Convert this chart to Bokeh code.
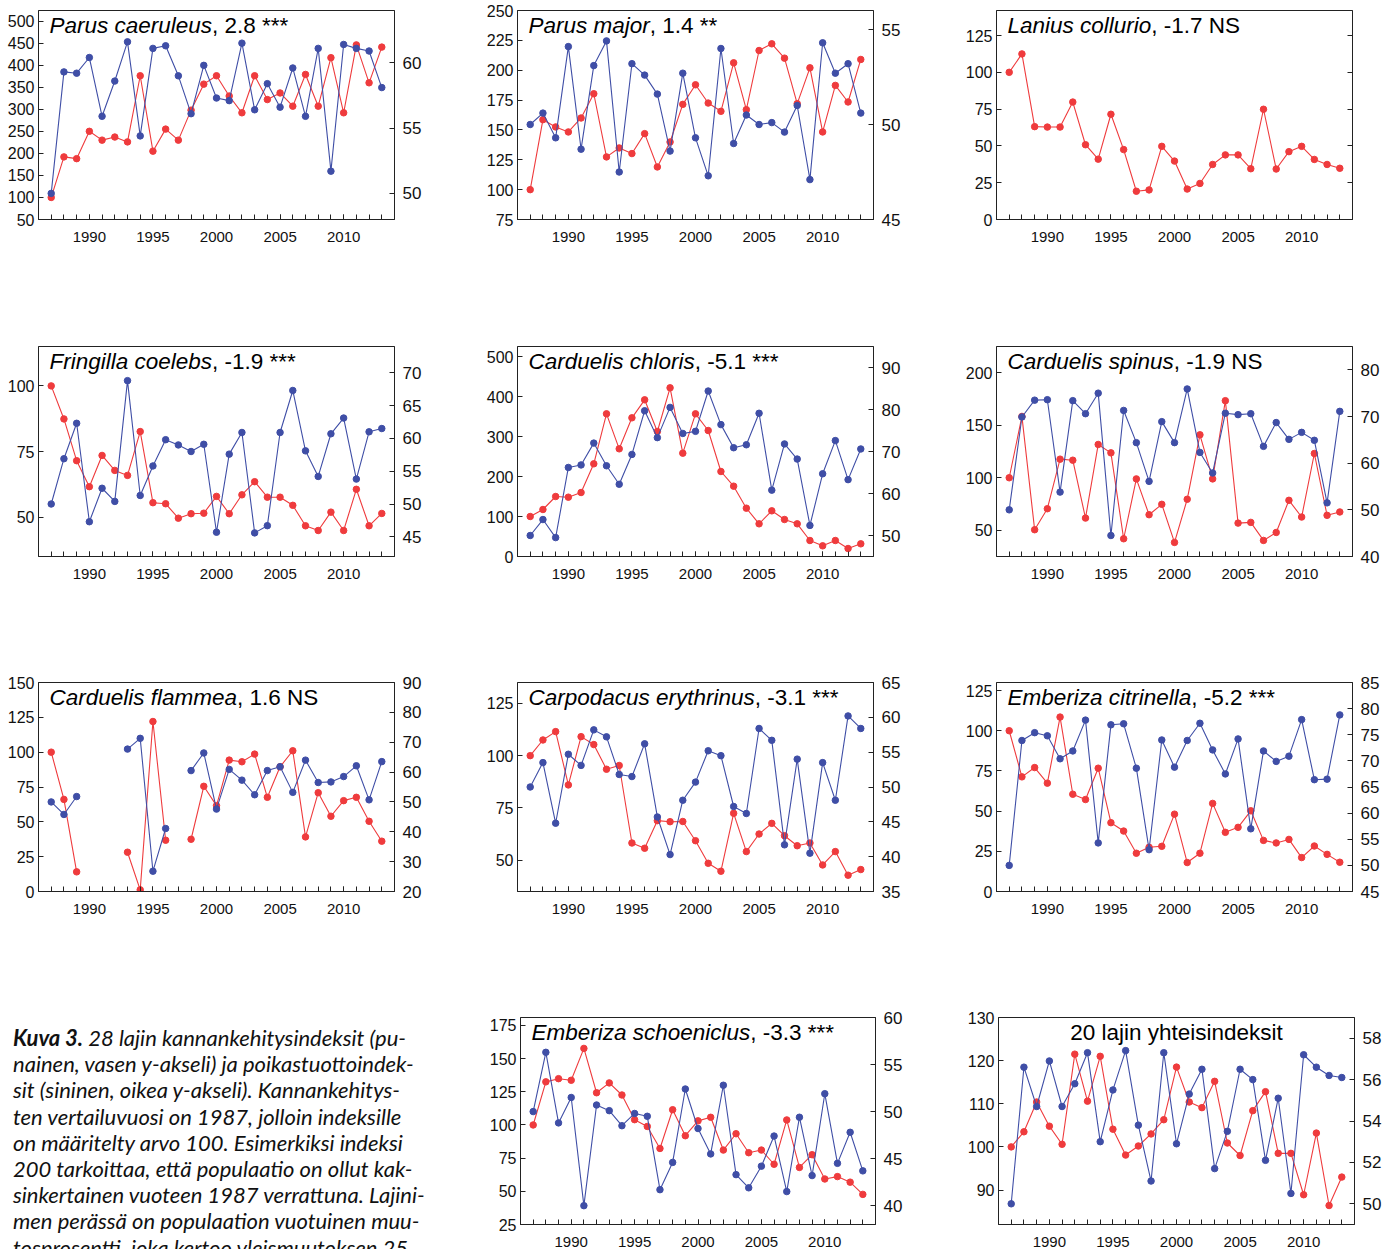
import numpy as np
from bokeh.plotting import figure
from bokeh.models import Range1d, LinearAxis, FixedTicker, Label, Div
from bokeh.layouts import row, column
from bokeh.embed import file_html
from bokeh.resources import INLINE

nan = np.nan
YEARS = list(range(1987, 2014))
X_LABEL_YEARS = [1990, 1995, 2000, 2005, 2010]

# ---- data: red = population index (left axis), blue = productivity index (right axis)
PARUS_CAERULEUS_POP = [100, 192, 188, 250, 230, 237, 226, 376, 205, 255, 230, 298, 357, 376, 330, 292, 376, 322, 337, 307, 379, 307, 417, 292, 446, 360, 441]
PARUS_CAERULEUS_PROD = [50.0, 59.3, 59.2, 60.4, 55.9, 58.6, 61.6, 54.4, 61.1, 61.3, 59.0, 56.1, 59.8, 57.3, 57.1, 61.5, 56.4, 58.4, 56.6, 59.6, 55.9, 61.1, 51.7, 61.4, 61.1, 60.9, 58.1]

PARUS_MAJOR_POP = [100, 158.6, 152.5, 148.3, 160, 180.3, 127.4, 134.9, 130.2, 146.9, 119, 139.9, 171.4, 187.8, 172.5, 165.6, 206.2, 167, 216.5, 222.1, 210.1, 172, 202, 148.3, 187.3, 173.4, 209]
PARUS_MAJOR_PROD = [50.0, 50.6, 49.3, 54.1, 48.7, 53.1, 54.4, 47.5, 53.2, 52.6, 51.6, 48.6, 52.7, 49.3, 47.3, 54.0, 49.0, 50.5, 50.0, 50.1, 49.6, 51.0, 47.1, 54.3, 52.7, 53.2, 50.6]

LANIUS_POP = [100, 112.5, 63.1, 62.8, 62.8, 79.8, 50.8, 41, 71.5, 47.5, 19.2, 20.1, 49.7, 39.7, 20.7, 24.5, 37.4, 43.9, 43.9, 34.5, 74.9, 34.3, 46.1, 49.7, 40.8, 37.4, 34.8]

FRINGILLA_POP = [100, 87.4, 71.5, 61.6, 73.5, 67.8, 65.9, 82.6, 55.5, 55.1, 49.6, 51.3, 51.5, 57.9, 51.3, 58.5, 63.5, 57.6, 57.6, 54.5, 46.7, 44.9, 51.9, 44.9, 60.6, 46.7, 51.4]
FRINGILLA_PROD = [50.0, 56.9, 62.3, 47.3, 52.4, 50.4, 68.8, 51.3, 55.8, 59.8, 59.0, 58.0, 59.1, 45.7, 57.6, 60.9, 45.6, 46.7, 60.9, 67.3, 58.1, 54.2, 60.7, 63.1, 53.8, 61.0, 61.5]

CHLORIS_POP = [100, 117.5, 150, 148.3, 160, 231.7, 356.7, 269.2, 346.7, 391.7, 312.5, 421.7, 258.3, 356.7, 315, 212.5, 175.8, 120.8, 81.7, 114.2, 92.5, 81.7, 40, 26.7, 40, 20, 31.7]
CHLORIS_PROD = [50.0, 53.8, 49.5, 66.2, 66.8, 72.0, 66.6, 62.2, 69.3, 79.7, 73.3, 80.5, 74.3, 74.8, 84.4, 76.4, 70.9, 71.6, 79.1, 60.8, 71.8, 68.2, 52.4, 64.7, 72.6, 63.3, 70.6]

SPINUS_POP = [100, 158.4, 50.5, 70.5, 117.7, 116.7, 61.6, 131.7, 123.7, 41.9, 98.9, 64.8, 74.7, 38.4, 79.5, 140.9, 98.9, 173.4, 56.8, 57.5, 40.3, 47.9, 78.5, 62.6, 123.1, 64.2, 67.4]
SPINUS_PROD = [50.0, 69.9, 73.5, 73.6, 53.8, 73.4, 70.6, 75.0, 44.5, 71.3, 64.4, 56.1, 68.9, 64.4, 75.9, 62.3, 57.9, 70.7, 70.4, 70.6, 63.6, 68.7, 65.1, 66.6, 64.9, 51.5, 71.1]

FLAMMEA_POP = [100, 66.1, 14.1, nan, nan, nan, 28.2, 1.2, 122, 36.8, nan, 37.5, 75.5, 61.6, 94.3, 93.1, 98.6, 67.6, 89.5, 101, 39.2, 70.9, 54, 65.2, 67.6, 50.4, 36.1]
FLAMMEA_PROD = [50.0, 45.8, 51.8, nan, nan, nan, 67.7, 71.3, 26.8, 41.1, nan, 60.5, 66.4, 47.6, 60.9, 57.3, 52.4, 60.5, 61.8, 53.2, 64.0, 56.5, 56.7, 58.5, 62.1, 50.7, 63.5]

ERYTHRINUS_POP = [100, 107.5, 111.5, 86, 109.1, 105.3, 93.5, 95.3, 58.2, 55.7, 68.9, 68.4, 68.5, 59.3, 48.5, 44.7, 72.4, 54.1, 62.5, 67.6, 61.7, 56.9, 58.2, 47.7, 54.1, 42.8, 45.5]
ERYTHRINUS_PROD = [50.0, 53.5, 44.8, 54.7, 53.1, 58.2, 57.2, 51.8, 51.5, 56.2, 45.7, 40.3, 48.1, 50.7, 55.2, 54.5, 47.2, 46.2, 58.4, 56.7, 41.7, 54.0, 40.5, 53.5, 48.1, 60.2, 58.4]

CITRINELLA_POP = [100, 71.3, 77.1, 67.4, 108.5, 60.5, 57.2, 76.7, 42.8, 37.6, 23.8, 27.5, 28.1, 48.1, 18, 23.8, 54.8, 36.8, 39.9, 50.2, 31.8, 30.2, 32.4, 21.1, 28.3, 23.1, 18.2]
CITRINELLA_PROD = [50.0, 73.9, 75.4, 74.8, 70.4, 71.9, 77.8, 54.3, 76.9, 77.1, 68.6, 53.0, 74.0, 68.8, 73.9, 77.2, 72.1, 67.5, 74.2, 57.0, 71.9, 69.9, 70.9, 77.9, 66.4, 66.5, 78.8]

SCHOENICLUS_POP = [100, 132.5, 134.9, 133.7, 157.7, 124.3, 131.7, 122.6, 104, 98.9, 82.3, 111.5, 91.9, 103.1, 105.8, 81.1, 93.4, 79.1, 81.1, 70.4, 103.8, 68, 77.6, 59.3, 61.1, 56.9, 47.7]
SCHOENICLUS_PROD = [50.0, 56.3, 48.8, 51.5, 40.0, 50.7, 50.1, 48.5, 49.8, 49.5, 41.7, 44.6, 52.4, 48.2, 45.5, 52.8, 43.3, 41.9, 44.2, 47.4, 41.5, 49.4, 43.2, 51.9, 44.5, 47.8, 43.7]

ALL20_POP = [100, 103.5, 110.4, 104.8, 100.6, 121.5, 110.6, 121, 104.1, 98.1, 100.2, 103, 106.3, 118.5, 110.4, 109.1, 115.2, 100.9, 98, 108.4, 112.8, 98.5, 98.5, 88.9, 103.2, 86.4, 93]
ALL20_PROD = [50.0, 56.6, 54.7, 56.9, 54.7, 55.8, 57.3, 53.0, 55.5, 57.4, 53.8, 51.1, 57.3, 52.9, 55.3, 56.5, 51.7, 53.5, 56.5, 56.0, 52.1, 55.1, 50.5, 57.2, 56.6, 56.2, 56.1]

# ---- titles and axis ticks
TITLE_NAMES = ["Parus caeruleus", "Parus major", "Lanius collurio",
               "Fringilla coelebs", "Carduelis chloris", "Carduelis spinus",
               "Carduelis flammea", "Carpodacus erythrinus", "Emberiza citrinella",
               "Emberiza schoeniclus", None]
TITLE_STATS = [", 2.8 ***", ", 1.4 **", ", -1.7 NS",
               ", -1.9 ***", ", -5.1 ***", ", -1.9 NS",
               ", 1.6 NS", ", -3.1 ***", ", -5.2 ***",
               ", -3.3 ***", "20 lajin yhteisindeksit"]
LEFT_RANGES = [(50, 524), (75, 250), (0, 142), (35, 115), (0, 525), (25, 225), (0, 150), (35, 135), (0, 130), (25, 181), (82, 130)]
RIGHT_RANGES = [(48, 64), (45, 56), None, (42, 74), (45, 95), (40, 85), (20, 90), (35, 65), (45, 85), (38, 60), (49, 59)]
LEFT_TICKS = [[50, 100, 150, 200, 250, 300, 350, 400, 450, 500],
              [75, 100, 125, 150, 175, 200, 225, 250],
              [0, 25, 50, 75, 100, 125],
              [50, 75, 100],
              [0, 100, 200, 300, 400, 500],
              [50, 100, 150, 200],
              [0, 25, 50, 75, 100, 125, 150],
              [50, 75, 100, 125],
              [0, 25, 50, 75, 100, 125],
              [25, 50, 75, 100, 125, 150, 175],
              [90, 100, 110, 120, 130]]
RIGHT_TICKS = [[50, 55, 60], [45, 50, 55], None, [45, 50, 55, 60, 65, 70], [50, 60, 70, 80, 90],
               [40, 50, 60, 70, 80], [20, 30, 40, 50, 60, 70, 80, 90], [35, 40, 45, 50, 55, 60, 65],
               [45, 50, 55, 60, 65, 70, 75, 80, 85], [40, 45, 50, 55, 60], [50, 52, 54, 56, 58]]
POP = [PARUS_CAERULEUS_POP, PARUS_MAJOR_POP, LANIUS_POP, FRINGILLA_POP, CHLORIS_POP, SPINUS_POP,
       FLAMMEA_POP, ERYTHRINUS_POP, CITRINELLA_POP, SCHOENICLUS_POP, ALL20_POP]
PROD = [PARUS_CAERULEUS_PROD, PARUS_MAJOR_PROD, None, FRINGILLA_PROD, CHLORIS_PROD, SPINUS_PROD,
        FLAMMEA_PROD, ERYTHRINUS_PROD, CITRINELLA_PROD, SCHOENICLUS_PROD, ALL20_PROD]

CAPTION_LINES = [
    "<b>Kuva 3.</b> 28 lajin kannankehitysindeksit (pu-",
    "nainen, vasen y-akseli) ja poikastuottoindek-",
    "sit (sininen, oikea y-akseli). Kannankehitys-",
    "ten vertailuvuosi on 1987, jolloin indeksille",
    "on määritelty arvo 100. Esimerkiksi indeksi",
    "200 tarkoittaa, että populaatio on ollut kak-",
    "sinkertainen vuoteen 1987 verrattuna. Lajini-",
    "men perässä on populaation vuotuinen muu-",
    "tosprosentti, joka kertoo yleismuutoksen 25",
]

# ---- style
RED = "#ef3b3d"
BLUE = "#3f4ea6"
AXIS = "#222222"
FONT = "Liberation Sans"

ARIAL_W = {' ': 278, ',': 278, '.': 278, '-': 333, '*': 389,
           'A': 667, 'B': 667, 'C': 722, 'D': 722, 'E': 667, 'F': 611, 'G': 778, 'H': 722, 'I': 278,
           'J': 500, 'K': 667, 'L': 556, 'M': 833, 'N': 722, 'O': 778, 'P': 667, 'Q': 778, 'R': 722,
           'S': 667, 'T': 611, 'U': 722, 'V': 667, 'W': 944, 'X': 667, 'Y': 667, 'Z': 611,
           'a': 556, 'b': 556, 'c': 500, 'd': 556, 'e': 556, 'f': 278, 'g': 556, 'h': 556, 'i': 222,
           'j': 222, 'k': 500, 'l': 222, 'm': 833, 'n': 556, 'o': 556, 'p': 556, 'q': 556, 'r': 333,
           's': 500, 't': 278, 'u': 556, 'v': 500, 'w': 722, 'x': 500, 'y': 500, 'z': 500}


def text_width(s, size):
    return sum(ARIAL_W.get(c, 556) for c in s) * size / 1000.0


COL_W = [468, 470, 449]
COL_BL = [38, 49, 58]
ROW_H = [338, 330, 330, 251]
ROW_BT = [10, 8, 14, 19]
ROW_FH = [209, 210, 209, 211]
TITLE_SIZE = 22.5
TITLE_DY = -15


def make_panel(i, r, c, bl=None, fw=356):
    W = COL_W[c]
    bl = COL_BL[c] if bl is None else bl
    br = W - bl - fw
    H = ROW_H[r]
    bt = ROW_BT[r]
    bb = H - bt - ROW_FH[r]
    lo, hi = LEFT_RANGES[i]
    p = figure(width=W, height=H, x_range=Range1d(1986, 2014), y_range=Range1d(lo, hi),
               output_backend="svg", toolbar_location=None,
               min_border_left=bl, min_border_right=br, min_border_top=bt, min_border_bottom=bb)
    p.xgrid.visible = False
    p.ygrid.visible = False
    p.outline_line_color = AXIS
    p.outline_line_alpha = 1
    p.outline_line_width = 1

    xa = p.xaxis[0]
    xa.ticker = FixedTicker(ticks=X_LABEL_YEARS, minor_ticks=YEARS)
    ya = p.yaxis[0]
    ya.ticker = FixedTicker(ticks=LEFT_TICKS[i], minor_ticks=[])
    axes = [xa, ya]

    if RIGHT_RANGES[i] is not None:
        p.extra_y_ranges = {"r": Range1d(*RIGHT_RANGES[i])}
        ra = LinearAxis(y_range_name="r", ticker=FixedTicker(ticks=RIGHT_TICKS[i], minor_ticks=[]))
    else:
        ra = LinearAxis(ticker=FixedTicker(ticks=LEFT_TICKS[i], minor_ticks=[]),
                        major_label_overrides={t: "" for t in LEFT_TICKS[i]})
    p.add_layout(ra, "right")
    axes.append(ra)

    for a in axes:
        a.axis_line_color = AXIS
        a.major_tick_line_color = AXIS
        a.minor_tick_line_color = AXIS
        a.major_tick_in = 5
        a.major_tick_out = 0
        a.minor_tick_in = 5
        a.minor_tick_out = 0
        a.major_label_text_font = FONT
        a.major_label_text_color = "#111111"
    xa.major_label_text_font_size = "15px"
    xa.major_label_standoff = 12
    ya.major_label_text_font_size = "16px"
    ya.major_label_standoff = 4
    ra.major_label_text_font_size = "17px"
    ra.major_label_standoff = 8

    p.line(YEARS, np.array(POP[i], dtype=float), color=RED, line_width=1.1)
    p.scatter(YEARS, np.array(POP[i], dtype=float), size=6.5, color=RED)
    if PROD[i] is not None:
        p.line(YEARS, np.array(PROD[i], dtype=float), color=BLUE, line_width=1.1, y_range_name="r")
        p.scatter(YEARS, np.array(PROD[i], dtype=float), size=6.5, color=BLUE, y_range_name="r")

    name = TITLE_NAMES[i]
    if name is not None:
        p.add_layout(Label(x=1986, y=hi, x_offset=11, y_offset=TITLE_DY, text=name,
                           text_font=FONT, text_font_style="italic", text_font_size=f"{TITLE_SIZE}px",
                           text_baseline="alphabetic", text_align="left", text_color="black"))
        p.add_layout(Label(x=1986, y=hi, x_offset=11 + text_width(name, TITLE_SIZE), y_offset=TITLE_DY,
                           text=TITLE_STATS[i], text_font=FONT, text_font_size=f"{TITLE_SIZE}px",
                           text_baseline="alphabetic", text_align="left", text_color="black"))
    else:
        p.add_layout(Label(x=2000, y=hi, y_offset=TITLE_DY, text=TITLE_STATS[i],
                           text_font=FONT, text_font_size=f"{TITLE_SIZE}px",
                           text_baseline="alphabetic", text_align="center", text_color="black"))
    return p


panels = []
idx = 0
for r in range(3):
    rr = []
    for c in range(3):
        rr.append(make_panel(idx, r, c))
        idx += 1
    panels.append(rr)

p10 = make_panel(9, 3, 1, bl=52, fw=355)
p11 = make_panel(10, 3, 2, bl=60, fw=356)

caption_html = (
    '<div style="width:468px;height:251px;overflow:hidden;padding:27px 0 0 13px;box-sizing:border-box;'
    'font-family:Lato, \'Open Sans\', sans-serif;font-style:italic;font-size:22px;line-height:26.2px;'
    'color:#111;white-space:nowrap;">' + "<br>".join(CAPTION_LINES) + "</div>"
)
caption = Div(text=caption_html, width=468, height=251, margin=(0, 0, 0, 0))

layout = column(
    row(*panels[0]),
    row(*panels[1]),
    row(*panels[2]),
    row(caption, p10, p11),
)

open("out.html", "w").write(file_html(layout, INLINE, title="Kuva 3"))
